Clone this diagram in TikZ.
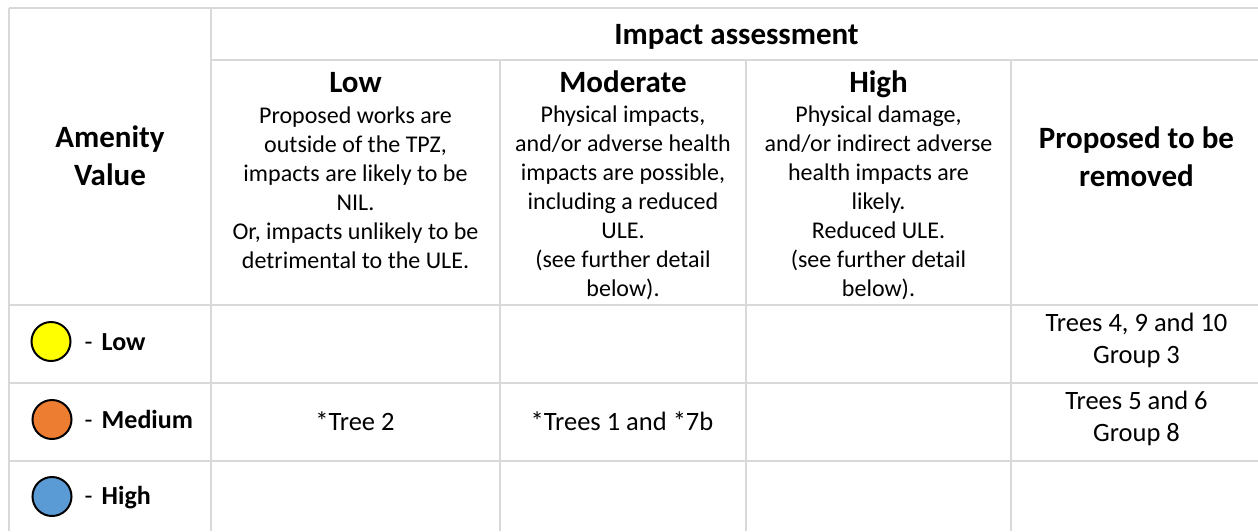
\documentclass[tikz,border=0pt]{standalone}
\usepackage{fontspec}
\setmainfont{Carlito}
\definecolor{gridgray}{HTML}{D9D9D9}
\definecolor{amyellow}{HTML}{FFFF00}
\definecolor{amorange}{HTML}{ED7D31}
\definecolor{amblue}{HTML}{5B9BD5}
\begin{document}
\begin{tikzpicture}[x=1pt,y=-1pt,
  gridline/.style={draw=gridgray,line width=1.6pt},
  headtxt/.style={anchor=base,inner sep=0pt,align=center,font=\fontsize{31}{37.8}\selectfont\bfseries},
  desctxt/.style={anchor=base,inner sep=0pt,align=center,font=\fontsize{24}{29}\selectfont},
  celltxt/.style={anchor=base,inner sep=0pt,align=center,font=\fontsize{26.5}{32}\selectfont},
  rowlab/.style={anchor=base west,inner sep=0pt,font=\fontsize{26}{32}\selectfont\bfseries},
  rowdash/.style={anchor=base west,inner sep=0pt,font=\fontsize{26}{32}\selectfont},
  dot/.style={circle,draw=black,line width=2pt,minimum size=39pt,inner sep=0pt}]
\useasboundingbox (0,0) rectangle (1258,531);
% grid
\draw[gridline] (9,8) -- (1258,8);
\draw[gridline] (211,60) -- (1258,60);
\draw[gridline] (9,305) -- (1258,305);
\draw[gridline] (9,383) -- (1258,383);
\draw[gridline] (9,461) -- (1258,461);
\draw[gridline] (9,8) -- (9,531);
\draw[gridline] (211,8) -- (211,531);
\draw[gridline] (500,60) -- (500,531);
\draw[gridline] (746,60) -- (746,531);
\draw[gridline] (1011,60) -- (1011,531);
% header (anchor = baseline of the last line)
\node[headtxt] (amen) at (110,185.7) {Amenity\\Value};
\node[headtxt] (impact) at (736.5,44) {Impact assessment};
\node[headtxt] (lowH) at (355.5,92) {Low};
\node[desctxt] (lowD) at (355.5,268.3) {Proposed works are\\outside of the TPZ,\\impacts are likely to be\\NIL.\\Or, impacts unlikely to be\\detrimental to the ULE.};
\node[headtxt] (modH) at (623,92) {Moderate};
\node[desctxt] (modD) at (623,296.5) {Physical impacts,\\and/or adverse health\\impacts are possible,\\including a reduced\\ULE.\\(see further detail\\below).};
\node[headtxt] (highH) at (878.5,92) {High};
\node[desctxt] (highD) at (878.5,296.5) {Physical damage,\\and/or indirect adverse\\health impacts are\\likely.\\Reduced ULE.\\(see further detail\\below).};
\node[headtxt] (prop) at (1136.5,186.5) {Proposed to be\\removed};
% row labels
\node[dot,fill=amyellow] (c1) at (51,341.5) {};
\node[rowdash] (d1) at (84.5,350) {-};
\node[rowlab] (l1) at (101.5,350) {Low};
\node[dot,fill=amorange] (c2) at (52,419.5) {};
\node[rowdash] (d2) at (84.5,428.3) {-};
\node[rowlab] (l2) at (101.5,428.3) {Medium};
\node[dot,fill=amblue] (c3) at (52,496.5) {};
\node[rowdash] (d3) at (84.5,504) {-};
\node[rowlab] (l3) at (101.5,504) {High};
% cells
\node[celltxt] (r1p) at (1136.5,363.5) {Trees 4, 9 and 10\\Group 3};
\node[celltxt] (r2l) at (355,430.7) {*Tree 2};
\node[celltxt] (r2m) at (622,430.7) {*Trees 1 and *7b};
\node[celltxt] (r2p) at (1136.5,441.7) {Trees 5 and 6\\Group 8};
\end{tikzpicture}
\end{document}
